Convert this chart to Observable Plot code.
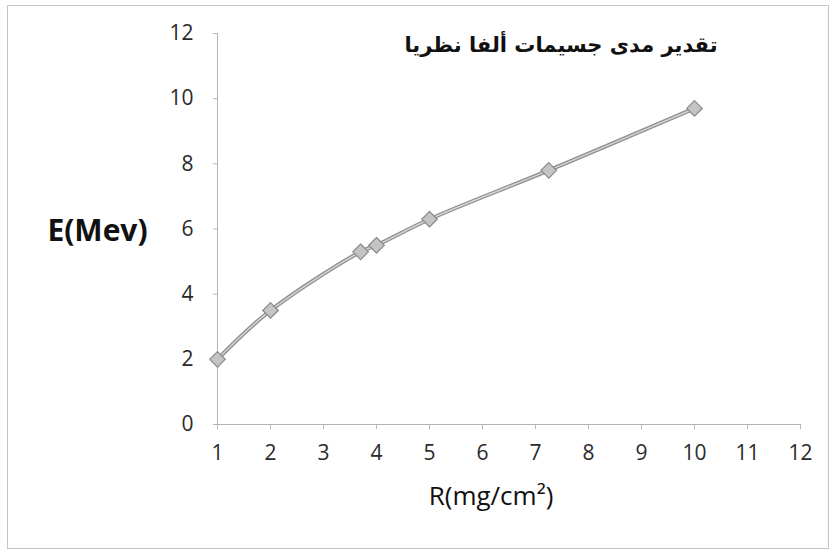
<!DOCTYPE html>
<html>
<head>
<meta charset="utf-8">
<script src="https://cdn.jsdelivr.net/npm/d3@7"></script>
<script src="https://cdn.jsdelivr.net/npm/@observablehq/plot@0.6"></script>
<style>
  html, body { margin: 0; padding: 0; background: #fff; }
  #wrap { position: relative; width: 834px; height: 551px; }
  #border { position: absolute; left: 7px; top: 5px; width: 822px; height: 544px; border: 1px solid #c4c4c4; box-sizing: border-box; pointer-events: none; }
  g[aria-label="x-axis tick label"], g[aria-label="y-axis tick label"] { font-size: 21px; font-weight: normal; fill: #2a2a2a; }
</style>
</head>
<body>
<div id="wrap"><div id="border"></div></div>
<script>
const R = [1, 2, 3.7, 4, 5, 7.25, 10];
const E = [2, 3.5, 5.3, 5.5, 6.3, 7.8, 9.7];
const xTicks = [1, 2, 3, 4, 5, 6, 7, 8, 9, 10, 11, 12];
const yTicks = [0, 2, 4, 6, 8, 10, 12];
const title = "تقدير مدى جسيمات ألفا نظريا";
const xLabel = "R(mg/cm²)";
const yLabel = "E(Mev)";

const data = R.map((r, i) => ({r, e: E[i]}));
const font = "'Open Sans', Calibri, sans-serif";

const chart = Plot.plot({
  width: 834,
  height: 551,
  marginLeft: 217,
  marginRight: 34,
  marginTop: 33,
  marginBottom: 127,
  style: {fontFamily: font, fontSize: "21px", color: "#2a2a2a", background: "transparent"},
  x: {domain: [1, 12], ticks: xTicks, label: null},
  y: {domain: [0, 12], ticks: yTicks, label: null},
  marks: [
    Plot.ruleY([0], {stroke: "#b5b5b5", strokeWidth: 1}),
    Plot.ruleX([1], {stroke: "#b5b5b5", strokeWidth: 1}),
    Plot.axisX({ticks: xTicks, tickSize: 5, tickPadding: 16, stroke: "#b5b5b5", label: null}),
    Plot.axisY({ticks: yTicks, tickSize: 4, tickPadding: 20, stroke: "#b5b5b5", label: null}),
    Plot.line(data, {x: "r", y: "e", curve: "catmull-rom", stroke: "#8f8f8f", strokeWidth: 4}),
    Plot.line(data, {x: "r", y: "e", curve: "catmull-rom", stroke: "#d4d4d4", strokeWidth: 1.5}),
    Plot.dot(data, {x: "r", y: "e", symbol: "diamond2", r: 7, fill: "#c4c4c4", stroke: "#8a8a8a", strokeWidth: 1.2}),
    Plot.text([title], {frameAnchor: "top", dx: 52, dy: 4, text: d => d, fontSize: 21, fontWeight: "bold", fill: "#111", fontFamily: "'DejaVu Sans', 'Liberation Sans', sans-serif"}),
    Plot.text([yLabel], {frameAnchor: "left", dx: -120, dy: 2, text: d => d, fontSize: 30, fontWeight: "bold", fill: "#111", textAnchor: "middle", fontFamily: font}),
    Plot.text([xLabel], {frameAnchor: "bottom", dx: -18, dy: 80, text: d => d, fontSize: 26, fill: "#111", fontFamily: font})
  ]
});
document.getElementById("wrap").appendChild(chart);
</script>
</body>
</html>
